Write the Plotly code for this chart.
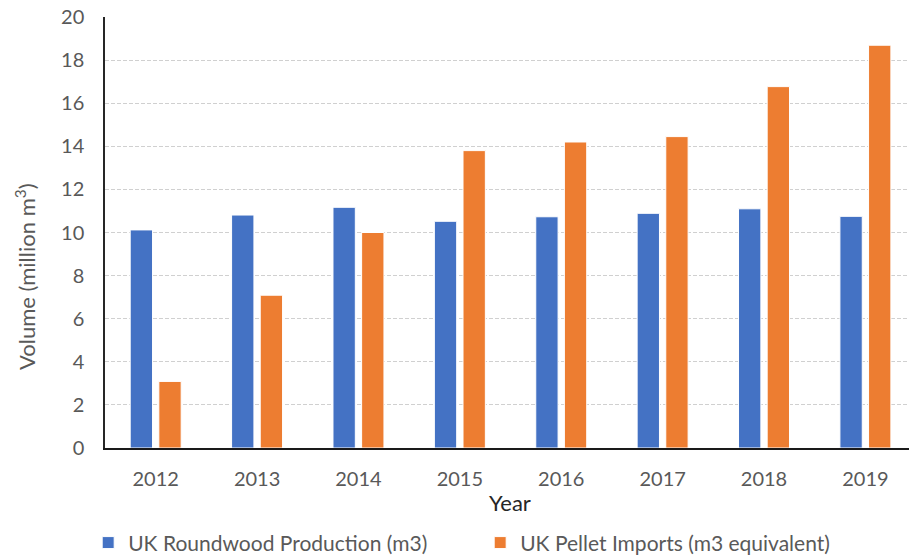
import plotly.graph_objects as go

years = ["2012", "2013", "2014", "2015", "2016", "2017", "2018", "2019"]
roundwood = [10.12, 10.81, 11.17, 10.52, 10.73, 10.89, 11.10, 10.75]
pellets = [3.09, 7.09, 10.0, 13.80, 14.20, 14.45, 16.77, 18.69]
series_names = ["UK Roundwood Production (m3)", "UK Pellet Imports (m3 equivalent)"]
y_ticks = list(range(0, 21, 2))

FONT = "Lato, 'Open Sans', sans-serif"
GRAY = "#595959"

fig = go.Figure()
fig.add_trace(go.Bar(x=years, y=roundwood, name=series_names[0],
                     marker=dict(color="#4472C4", line=dict(color="white", width=1))))
fig.add_trace(go.Bar(x=years, y=pellets, name=series_names[1],
                     marker=dict(color="#ED7D31", line=dict(color="white", width=1))))

fig.update_layout(
    width=909, height=558,
    margin=dict(l=105, r=0, t=17, b=110),
    paper_bgcolor="white", plot_bgcolor="white",
    barmode="group", bargap=0.435, bargroupgap=0.22,
    font=dict(family=FONT, size=20, color=GRAY),
    legend=dict(orientation="h", xref="container", yref="container",
                x=0.097, y=0.027, xanchor="left", yanchor="middle",
                entrywidth=347, entrywidthmode="pixels",
                font=dict(size=21, color=GRAY), itemwidth=30),
    showlegend=True,
)
fig.update_xaxes(type="category", range=[-0.5, 7.43],
                 showline=True, linecolor="#1a1a1a", linewidth=2,
                 ticks="outside", ticklen=12, tickcolor="rgba(0,0,0,0)",
                 tickfont=dict(size=20, color=GRAY), showgrid=False)
fig.update_yaxes(range=[0, 20], tickvals=y_ticks,
                 showline=True, linecolor="#262626", linewidth=1.5,
                 showgrid=True, gridcolor="#d0d0d0", griddash="4px,2px", gridwidth=1,
                 ticks="outside", ticklen=15, tickcolor="rgba(0,0,0,0)",
                 tickfont=dict(size=20, color=GRAY), zeroline=False)

fig.add_annotation(text="Volume (million m<sup>3</sup>)", textangle=-90,
                   xref="paper", yref="paper", x=(25 - 105) / 804, y=(448 - 277) / 431,
                   xanchor="center", yanchor="middle", showarrow=False,
                   font=dict(size=22, color=GRAY, family=FONT))
fig.add_annotation(text="Year", xref="paper", yref="paper",
                   x=(510 - 105) / 804, y=(448 - 503) / 431,
                   xanchor="center", yanchor="middle", showarrow=False,
                   font=dict(size=22, color="#262626", family=FONT))

fig.write_html("out.html")
